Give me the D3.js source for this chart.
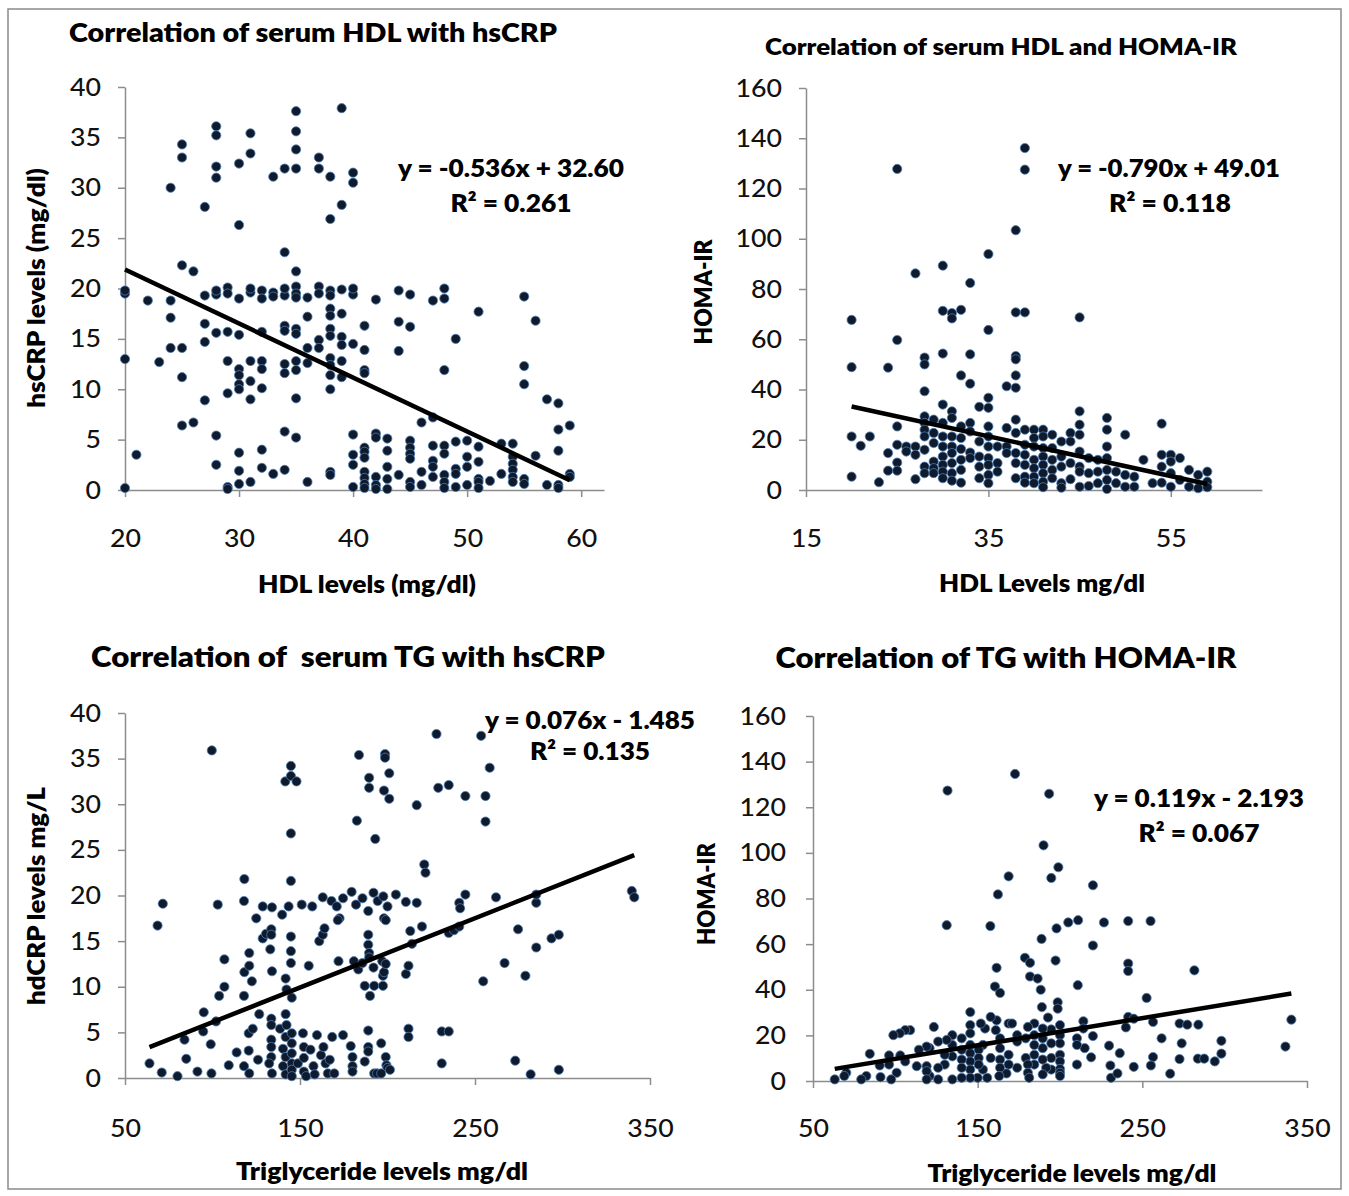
<!DOCTYPE html>
<html><head><meta charset="utf-8">
<script src="https://cdn.jsdelivr.net/npm/d3@7"></script>
<style>
html,body{margin:0;padding:0;background:#fff;}
svg{display:block;}
text{font-family:Lato,"Open Sans",sans-serif;white-space:pre;}
</style></head>
<body>
<svg id="c" width="1349" height="1196"></svg>
<script>
// ---------- DATA ----------
const titles = ["Correlation of serum HDL with hsCRP","Correlation of serum HDL and HOMA-IR","Correlation of  serum TG with hsCRP","Correlation of TG with HOMA-IR"];
const xTitles = ["HDL levels (mg/dl)","HDL Levels mg/dl","Triglyceride levels mg/dl","Triglyceride levels mg/dl"];
const yTitles = ["hsCRP levels (mg/dl)","HOMA-IR","hdCRP levels mg/L","HOMA-IR"];
const equations = ["y = -0.536x + 32.60","y = -0.790x + 49.01","y = 0.076x - 1.485","y = 0.119x - 2.193"];
const r2Labels = ["R\u00B2 = 0.261","R\u00B2 = 0.118","R\u00B2 = 0.135","R\u00B2 = 0.067"];
const slopes = [-0.536,-0.790,0.076,0.119];
const intercepts = [32.60,49.01,-1.485,-2.193];

const hdlTicks1 = [20,30,40,50,60];
const hdlTicks2 = [15,35,55];
const tgTicks = [50,150,250,350];
const crpTicks = [0,5,10,15,20,25,30,35,40];
const homaTicks = [0,20,40,60,80,100,120,140,160];

const hdlVsCrp = [
[35,37.6],[35,35.6],[35,33.8],[35,31.9],[28,36.1],[28,35.2],[28,32.1],[28,31.0],[25,34.3],[25,33.0],[24,30.0],[27,28.1],[30,32.4],[30,26.3],[31,35.4],[31,33.4],[33,31.1],[34,31.9],[37,33.0],[37,31.9],[38,31.1],[38,26.9],[39,37.9],[39,28.3],[40,31.5],[40,30.5],[34,23.6],[35,21.7],[25,22.3],[26,21.7],
[20,19.5],[20,19.8],[22,18.8],[24,18.8],[27,19.3],[28,19.4],[28,19.8],[29,20.1],[29,19.5],[30,19.0],[31,19.6],[31,20.0],[32,19.8],[32,19.0],[33,19.6],[33,19.2],[34,19.3],[34,20.0],[35,20.2],[35,19.5],[35,19.1],[36,19.1],[37,20.2],[37,19.5],[38,19.8],[38,19.3],[39,19.9],[40,19.4],[40,20.0],[42,18.9],[44,19.8],[45,19.4],[47,18.8],[48,19.0],[48,20.0],[55,19.2],
[24,17.1],[27,16.5],[27,14.7],[28,15.6],[29,15.7],[30,15.4],[32,15.7],[34,16.3],[34,15.8],[35,16.0],[35,15.5],[36,17.2],[37,14.9],[37,14.1],[36,14.1],[38,18.0],[38,17.3],[38,16.0],[38,15.3],[39,17.5],[39,15.2],[39,14.4],[40,14.5],[41,16.3],[41,13.9],[44,16.7],[45,16.2],[44,13.8],[51,17.7],[56,16.8],[49,15.0],[48,11.9],[25,14.1],[24,14.1],
[20,13.0],[23,12.7],[25,11.2],[29,12.8],[30,12.0],[30,11.4],[31,12.8],[32,12.8],[32,12.0],[34,12.5],[34,11.6],[35,12.8],[35,11.9],[36,12.6],[38,13.1],[38,12.4],[38,11.4],[39,12.8],[39,11.2],[41,11.9],[41,11.6],[30,10.5],[30,10.0],[31,10.8],[32,10.1],[29,9.6],[31,9.0],[27,8.9],[35,9.1],[38,10.0],[55,12.3],[55,10.5],[57,9.0],[58,8.6],
[25,6.4],[26,6.7],[28,5.4],[34,5.8],[35,5.2],[21,3.5],[20,0.2],[28,2.5],[30,3.7],[30,1.9],[30,0.6],[29,0.3],[29,0.1],[31,0.8],[32,4.0],[32,2.2],[33,1.6],[34,2.0],[36,0.8],[38,1.8],[38,1.5],[40,5.5],[40,3.5],[40,2.5],[40,0.3],
[41,4.2],[41,3.8],[41,3.2],[41,1.8],[41,1.2],[41,0.6],[41,0.2],[42,5.6],[42,5.2],[42,1.3],[42,0.5],[42,0.1],[43,5.1],[43,3.9],[43,2.3],[43,1.1],[43,0.1],[44,1.5],[45,4.9],[45,4.2],[45,3.6],[45,3.1],[45,0.8],[45,0.3],[46,6.7],[46,1.8],[46,0.5],[47,7.2],[47,4.4],[47,2.9],[47,2.3],[47,1.3],[48,4.4],[48,3.6],[48,1.5],[48,0.8],[48,0.2],[49,4.8],[49,2.1],[49,1.6],[49,0.3],[50,4.9],[50,3.3],[50,2.3],[50,0.5],[51,4.3],[51,2.8],[51,1.1],[51,0.8],[51,0.2],[52,0.9],[53,1.6],[53,4.6],[54,4.6],[54,3.3],[54,2.6],[54,2.0],[54,1.3],[54,0.8],[55,1.1],[55,0.6],[56,3.4],[57,0.5],[58,6.0],[58,3.9],[58,0.5],[58,0.2],[59,6.4],[59,1.6],[59,1.3]
];

const hdlVsHoma = [
[25,127.8],[39,136.1],[39,127.5],[27,86.2],[30,89.3],[33,82.4],[35,93.9],[38,103.4],
[20,67.7],[20,48.9],[20,5.3],[20,21.3],[21,17.6],[22,21.3],[23,3.1],[24,48.7],[24,14.7],[24,7.7],[25,59.7],[25,25.3],[25,18.0],[25,10.9],[25,7.7],[26,17.3],[26,15.3],[27,17.3],[27,14.0],[27,4.3],
[28,52.7],[28,50.0],[28,39.3],[28,29.3],[28,26.7],[28,24.0],[28,21.3],[28,16.0],[28,9.3],[28,6.7],[29,28.0],[29,22.7],[29,18.7],[29,11.3],[29,8.7],[29,6.7],
[30,71.3],[30,54.3],[30,34.0],[30,26.7],[30,21.3],[30,17.3],[30,13.3],[30,10.0],[30,7.3],[30,4.7],[31,70.4],[31,68.3],[31,31.3],[31,28.7],[31,21.3],[31,17.3],[31,14.7],[31,10.7],[31,6.7],[31,3.7],
[32,71.7],[32,45.6],[32,25.3],[32,20.7],[32,16.3],[32,12.0],[32,8.0],[32,2.9],[33,54.0],[33,42.3],[33,26.7],[33,23.3],[33,14.9],[33,12.7],[34,33.1],[34,19.3],[34,13.3],[34,9.3],[34,4.7],
[35,63.7],[35,36.7],[35,32.7],[35,25.3],[35,21.3],[35,17.3],[35,12.7],[35,10.0],[35,6.0],[35,2.7],[36,17.3],[36,10.7],[36,7.3],[37,41.3],[37,24.7],[37,17.3],[37,14.7],
[38,70.7],[38,53.3],[38,52.0],[38,45.6],[38,40.7],[38,28.0],[38,22.7],[38,14.7],[38,10.7],[38,4.7],[39,70.7],[39,24.0],[39,18.0],[39,14.0],[39,10.0],[39,5.3],[39,2.9],
[40,24.0],[40,20.7],[40,17.3],[40,12.0],[40,8.7],[40,5.3],[40,2.7],[41,24.0],[41,21.3],[41,16.7],[41,13.3],[41,10.0],[41,6.7],[41,3.3],[41,1.1],[42,22.0],[42,16.7],[42,12.0],[42,8.0],[42,4.7],
[43,19.3],[43,13.3],[43,9.3],[43,2.7],[43,0.9],[44,22.7],[44,19.3],[44,10.7],[44,4.3],[45,68.7],[45,31.3],[45,26.0],[45,22.0],[45,15.3],[45,9.3],[45,7.3],[45,1.3],
[46,12.7],[46,6.7],[46,1.6],[47,12.0],[47,7.3],[47,2.7],[48,28.7],[48,24.0],[48,17.3],[48,12.7],[48,8.0],[48,4.0],[48,0.4],[49,7.3],[49,2.7],[50,6.0],[50,1.3],[50,22.0],[51,5.3],[51,1.3],[52,12.0],[53,2.7],
[54,26.4],[54,14.0],[54,9.3],[54,2.9],[55,14.0],[55,11.3],[55,6.7],[55,1.3],[56,12.7],[56,4.0],[57,8.0],[57,1.3],[58,6.0],[58,0.7],[59,7.3],[59,3.3],[59,1.1]
];

const tgVsCrp = [
[99.6,35.9],[144.8,34.2],[141.6,32.5],[144.8,33.1],[148,32.5],[144.8,26.8],[183.7,35.4],[189.5,32.9],[189.5,31.8],[198.6,35.5],[198.6,35.1],[201,33.4],[198,31.5],[201,30.6],[182.5,28.2],[193,26.2],[216.7,29.9],[228,37.7],[229,31.8],[235,32.1],[244.5,30.9],[253.5,37.5],[258.4,34.0],[256,30.9],[256,28.1],[221,23.4],[221.7,22.5],[118.2,21.8],[144.8,21.6],[262,19.8],[285,19.2],[285,20.1],[339.6,20.5],[341,19.8],
[71.6,19.1],[103,19.0],[118,19.4],[128.7,18.8],[134,18.7],[139.8,17.9],[143.5,18.8],[151,19.0],[157,18.8],[163,19.8],[168,19.4],[171,18.8],[174.6,19.7],[179.5,20.4],[182,19.0],[185.7,19.7],[189,18.3],[192,20.3],[194.4,19.4],[197.6,19.9],[200,18.8],[204.8,20.1],[210.5,19.3],[216.7,19.2],[241,19.2],[244.5,20.1],[241.5,18.6],[125,17.5],[172.6,17.5],[198,17.5],
[68.6,16.7],[64,1.6],[71,0.6],[80,0.2],[84,4.2],[85,2.1],[91.4,0.7],[95,7.2],[94.7,5.1],[99,3.7],[99.4,0.5],[102,6.2],[103.8,9.0],[106.8,10.0],[106.8,13.0],[109.3,1.4],[113.8,2.8],[118,9.0],[118.2,11.6],[122.5,10.6],[121,13.7],[121,12.3],[118,1.3],[120.7,3.0],[121,0.5],[120.7,4.9],[123,5.4],[126,2.0],[126.7,7.0],
[128.7,15.3],[130.6,15.8],[133.6,16.3],[133.6,15.7],[133,14.1],[134,11.7],[133.6,6.5],[133.6,5.8],[133.6,4.2],[133.6,3.4],[133.6,2.3],[132.4,1.6],[134,0.5],[138.6,5.4],[141.8,10.9],[142.3,9.7],[141.8,7.0],[142.3,5.8],[141.8,4.5],[140.3,3.2],[141.8,2.3],[140.3,1.3],[141.8,0.4],
[144.8,15.5],[144.8,13.9],[144.8,12.6],[145.3,8.8],[145.3,4.9],[145.3,3.8],[145.3,2.7],[145.3,1.6],[145.3,0.9],[145.3,0.2],[148.8,1.6],[151.7,4.9],[152.2,3.4],[152.2,2.2],[152.2,0.7],[153.5,0.2],[155,12.3],[156,3.1],[157.7,1.3],[158.4,0.4],[159.7,4.7],[161,15.0],[162,2.5],[163,15.7],[164,16.4],[163.4,3.4],[164.6,1.6],[165.9,0.5],[167,2.0],[168.4,4.5],[169.6,0.5],
[171.6,17.3],[172,12.8],[174.6,4.7],[179,3.5],[180,2.3],[180,1.3],[180,0.7],[180.8,12.8],[183.3,11.9],[185.7,12.6],[187,1.8],[189,5.2],[189,3.4],[189,2.9],[189,15.7],[189,14.6],[189.5,13.7],[189.5,13.2],[190,9.0],[187,10.1],[192.4,10.1],[192,12.1],[192.4,0.5],[194,0.5],[196.4,3.8],[197,12.8],[197.4,11.2],[197.4,10.1],[198,11.6],[199,17.3],[199,2.3],[199.4,1.4],[200,1.1],[201.4,0.9],[196.4,0.5],[199,12.5],
[210.5,11.4],[212,12.3],[212,5.4],[212,4.5],[213,16.1],[214,14.7],[219.7,16.6],[231,1.6],[231,5.1],[235,5.1],[235,15.9],[238,16.2],[241,16.6],[254.7,10.6],[266.9,12.6],[273,1.9],[274.6,16.3],[278.8,11.2],[281.8,0.4],[285,14.3],[293.7,15.3],[297.9,15.7],[297.9,0.9]
];

const tgVsHoma = [
[131.7,127.3],[172.7,134.6],[193.4,125.9],[190,103.3],[199,93.7],[168.8,89.7],[194.7,89.0],[162.3,81.8],[220,85.8],
[131.2,68.3],[157.7,67.9],[197.9,66.9],[205,69.5],[211,70.5],[226.7,69.5],[241.4,70.1],[255,70.1],[188.8,62.3],[220,59.4],[178.7,54.0],[181.8,51.8],[161.5,49.6],[197.3,52.8],[241.4,51.5],[241.4,48.2],[281.6,48.5],[181.8,45.8],[186.4,44.9],[188.3,40.0],[160.5,41.4],[163.6,38.6],[210.8,42.0],[252.6,36.4],[198.6,34.5],[198.6,31.7],[189,32.4],[145.5,30.2],[192.7,27.8],[340.5,26.9],[336.9,15.1],
[241.4,28.1],[244.8,27.3],[240,23.5],[256.5,25.9],[272.6,25.2],[277.3,24.7],[284,24.7],[261.7,18.7],[273.9,16.5],[298,17.6],[298,12.0],[294,8.6],[283.7,9.8],[287.6,9.8],[272.6,9.6],[256.5,10.5],[255.2,6.8],[244.8,6.2],[266.9,3.2],[236.3,12.2],[229.8,15.5],[230.6,6.8],[231,1.4],[234.9,3.3],[220,19.7],[218.9,10.4],
[214.2,26.2],[214.2,23.0],[215,14.4],[210.3,18.7],[210.3,15.8],[210.3,7.2],[200,24.5],[200,20.1],[200,16.5],[200,11.5],[200,8.6],[200,5.3],[200,3.6],[200,2.2],[194.7,22.6],[194.7,16.5],[194.7,10.1],[194.7,5.0],[191.6,5.8],[189.5,23.0],[189.5,18.7],[189.5,14.4],[189.5,9.4],[189.5,2.9],
[184.4,25.2],[184.4,20.1],[184.4,15.8],[184.4,11.5],[184.4,7.2],[180.5,23.7],[179.2,18.7],[179.2,10.1],[180.5,7.2],[180.5,3.6],[181.3,1.4],[174,20.1],[174,17.3],[174,5.8],[168.8,25.2],[170.9,25.2],[168.8,11.5],[168.8,7.2],[167.5,3.3],
[163.6,18.7],[163.6,14.4],[163.6,9.4],[163.6,5.8],[163.1,2.2],[161.5,26.6],[161,22.3],[157.9,28.1],[157.9,10.1],[155.8,1.4],[154.5,23.0],[153.2,15.8],[153.2,5.0],[151.9,25.2],[150.6,13.7],[150.6,10.1],[150.6,7.2],[150,1.4],
[145.5,24.5],[145.5,20.9],[145.5,15.8],[145.5,12.2],[145.5,8.6],[145.5,5.0],[145.5,1.4],[140.3,18.7],[140.3,13.7],[140.3,9.4],[140.3,5.8],[140.3,1.4],[134.6,20.1],[134.6,15.8],[134.6,10.8],[134.6,0.7],[131.2,18.0],[130,11.5],[130,7.2],[126,17.3],[126,5.8],[126,0.7],
[123.4,23.7],[120.8,14.4],[120.8,2.2],[119,15.1],[119,6.5],[119,4.3],[119,0.7],[113,6.5],[109,22.3],[106,22.3],[102.7,20.9],[98.8,20.1],[103,11.2],[106,8.6],[100.8,3.6],[96.2,11.2],[96.2,7.2],[97.5,0.7],[91,1.7],[84.5,11.9],[82.4,2.2],[79.3,0.7],[70.2,3.6],[69,2.2],[63.2,0.7],[90.5,6.8],[114.3,13.7]
];

const datasets = [hdlVsCrp, hdlVsHoma, tgVsCrp, tgVsHoma];
const xTickSets = [hdlTicks1, hdlTicks2, tgTicks, tgTicks];
const yTickSets = [crpTicks, homaTicks, crpTicks, homaTicks];

// ---------- LAYOUT ----------
const layout = [
 {xd:[20,62], xr:[125,604], yd:[0,40], yr:[490,87], yPad:17, xPad:32,
  title:{x:313,y:42,fs:27,w:488}, xt:{x:367,y:593,w:218}, yt:{x:45,y:288,w:240},
  eq:{x:511,y:177,w:226}, r2:{x:511,y:212,w:121}},
 {xd:[15,65], xr:[806,1262], yd:[0,160], yr:[490,88], yPad:17, xPad:32,
  title:{x:1001,y:55,fs:23,w:472}, xt:{x:1042,y:592,w:206}, yt:{x:712,y:292,w:105},
  eq:{x:1169,y:177,w:222}, r2:{x:1170,y:212,w:122}},
 {xd:[50,350], xr:[125,650], yd:[0,40], yr:[1078,713], yPad:17, xPad:34,
  title:{x:348,y:667,fs:28,w:514}, xt:{x:382,y:1180,w:292}, yt:{x:45,y:896,w:218},
  eq:{x:590,y:729,w:210}, r2:{x:590,y:760,w:120}},
 {xd:[50,350], xr:[813,1307], yd:[0,160], yr:[1081,716], yPad:20, xPad:31,
  title:{x:1006,y:668,fs:28,w:461}, xt:{x:1072,y:1182,w:289}, yt:{x:715,y:894,w:102},
  eq:{x:1199,y:807,w:210}, r2:{x:1199,y:842,w:121}}
];

const svg = d3.select("#c");
svg.append("rect").attr("x",8).attr("y",9).attr("width",1333).attr("height",1180)
  .attr("fill","#fff").attr("stroke","#8a8a8a").attr("stroke-width",1.5);

function fitText(sel, w){ sel.attr("textLength",w).attr("lengthAdjust","spacingAndGlyphs"); }

layout.forEach((L,i)=>{
  const g = svg.append("g");
  const x = d3.scaleLinear().domain(L.xd).range(L.xr);
  const y = d3.scaleLinear().domain(L.yd).range(L.yr);

  const xa = g.append("g").attr("transform",`translate(0,${L.yr[0]})`)
    .call(d3.axisBottom(x).tickValues(xTickSets[i]).tickSize(7).tickSizeOuter(0).tickPadding(L.xPad).tickFormat(d3.format("d")));
  const ya = g.append("g").attr("transform",`translate(${L.xr[0]},0)`)
    .call(d3.axisLeft(y).tickValues(yTickSets[i]).tickSize(7).tickSizeOuter(0).tickPadding(L.yPad).tickFormat(d3.format("d")));
  [xa,ya].forEach(a=>{
    a.select(".domain").attr("stroke","#8c8c8c").attr("stroke-width",1.5);
    a.selectAll(".tick line").attr("stroke","#8c8c8c").attr("stroke-width",1.5);
    a.selectAll(".tick text").attr("fill","#111").style("font-family","Lato, sans-serif").style("font-size","25px").style("font-weight",500)
      .each(function(){ const t=d3.select(this); fitText(t, t.text().length*15.5); });
  });

  // points
  g.append("g").selectAll("circle").data(datasets[i]).join("circle")
    .attr("cx",d=>x(d[0])).attr("cy",d=>y(d[1])).attr("r",4.6)
    .attr("fill","#0f1a2c").attr("stroke","#4d7db4").attr("stroke-width",0.8);

  // trend line
  const ext = d3.extent(datasets[i], d=>d[0]);
  const f = v => slopes[i]*v + intercepts[i];
  g.append("line").attr("x1",x(ext[0])).attr("y1",y(f(ext[0]))).attr("x2",x(ext[1])).attr("y2",y(f(ext[1])))
    .attr("stroke","#000").attr("stroke-width",4.5);

  // texts
  const T = (o,txt,fs,weight)=> g.append("text").attr("x",o.x).attr("y",o.y).attr("text-anchor","middle")
     .style("font-size",fs+"px").style("font-weight",weight).attr("fill","#000").text(txt).call(s=>fitText(s,o.w));
  T(L.title, titles[i], L.title.fs, 800);
  T(L.xt, xTitles[i], 24, 800);
  T(L.eq, equations[i], 24, 800);
  T(L.r2, r2Labels[i], 24, 800);
  g.append("text").attr("transform",`translate(${L.yt.x},${L.yt.y}) rotate(-90)`).attr("text-anchor","middle")
    .style("font-size","25px").style("font-weight",800).attr("fill","#000").text(yTitles[i]).call(s=>fitText(s,L.yt.w));
});
</script>
</body></html>
